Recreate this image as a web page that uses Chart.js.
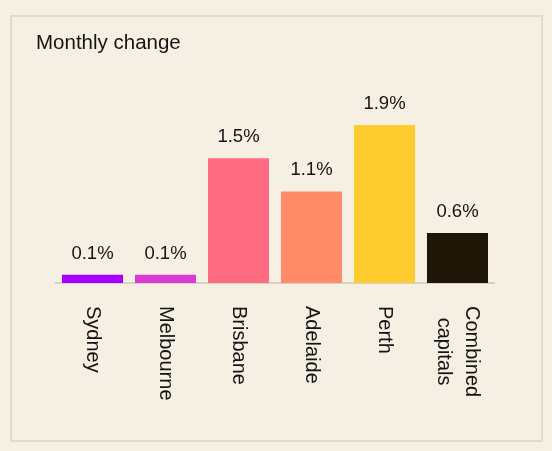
<!DOCTYPE html>
<html>
<head>
<meta charset="utf-8">
<script src="https://cdn.jsdelivr.net/npm/chart.js@4.4.1/dist/chart.umd.min.js"></script>
<style>
  html, body { margin: 0; padding: 0; background: #f6efe3; }
  #wrap { position: relative; width: 552px; height: 451px; }
  #card {
    position: absolute; left: 10px; top: 15px; width: 529px; height: 423px;
    border: 2px solid #e2d9cb;
  }
  #wrap canvas { position: absolute; left: 0; top: 0; }
</style>
</head>
<body>
<div id="wrap">
  <div id="card"></div>
  <canvas id="changeChart" width="552" height="451"></canvas>
</div>
<script>
var cities = [["Sydney"], ["Melbourne"], ["Brisbane"], ["Adelaide"], ["Perth"], ["Combined", "capitals"]]
var monthlyChange = [0.1, 0.1, 1.5, 1.1, 1.9, 0.6]
var barColours = ["#a800ff", "#da3ad6", "#ff6b81", "#ff8c66", "#ffcc30", "#1f1608"]

var fontFamily = "'Liberation Sans', Arial, sans-serif"
var ink = "#141414"

// value labels, rotated category labels and the title
var labelPlugin = {
    id: "labels",
    afterDraw: function(chart){
        var ctx = chart.ctx
        var xScale = chart.scales.x
        var bars = chart.getDatasetMeta(0).data
        ctx.save()
        ctx.fillStyle = ink

        ctx.font = "20.5px " + fontFamily
        ctx.textAlign = "left"
        ctx.textBaseline = "alphabetic"
        ctx.fillText("Monthly change", 36, 49)

        ctx.font = "18.5px " + fontFamily
        ctx.textAlign = "center"
        bars.forEach(function(bar, i){
            ctx.fillText(monthlyChange[i].toFixed(1) + "%", bar.x, bar.y - 16)
        })

        ctx.font = "20px " + fontFamily
        ctx.textBaseline = "middle"
        cities.forEach(function(lines, i){
            var x = xScale.getPixelForValue(i)
            var lineHeight = 28
            var longest = Math.max.apply(null, lines.map(function(l){ return ctx.measureText(l).width }))
            ctx.save()
            ctx.translate(x, chart.chartArea.bottom + 23)
            ctx.rotate(Math.PI / 2)
            lines.forEach(function(line, j){
                var offset = (j - (lines.length - 1) / 2) * lineHeight
                ctx.textAlign = "center"
                ctx.fillText(line, longest / 2, offset)
            })
            ctx.restore()
        })
        ctx.restore()
    }
}

var chart = new Chart(document.getElementById("changeChart"), {
    type: "bar",
    data: {
        labels: cities,
        datasets: [{
            data: monthlyChange,
            backgroundColor: barColours,
            categoryPercentage: 1,
            barPercentage: 0.836
        }]
    },
    options: {
        responsive: false,
        animation: false,
        layout: { padding: { left: 56, right: 58, top: 75, bottom: 168 } },
        plugins: { legend: { display: false }, tooltip: { enabled: false } },
        scales: {
            x: {
                grid: { display: false, drawTicks: false },
                border: { display: true, color: "#d9d0c2", width: 2 },
                ticks: { display: false }
            },
            y: {
                display: false,
                min: 0,
                max: 2.5
            }
        }
    },
    plugins: [labelPlugin]
})
</script>
</body>
</html>
